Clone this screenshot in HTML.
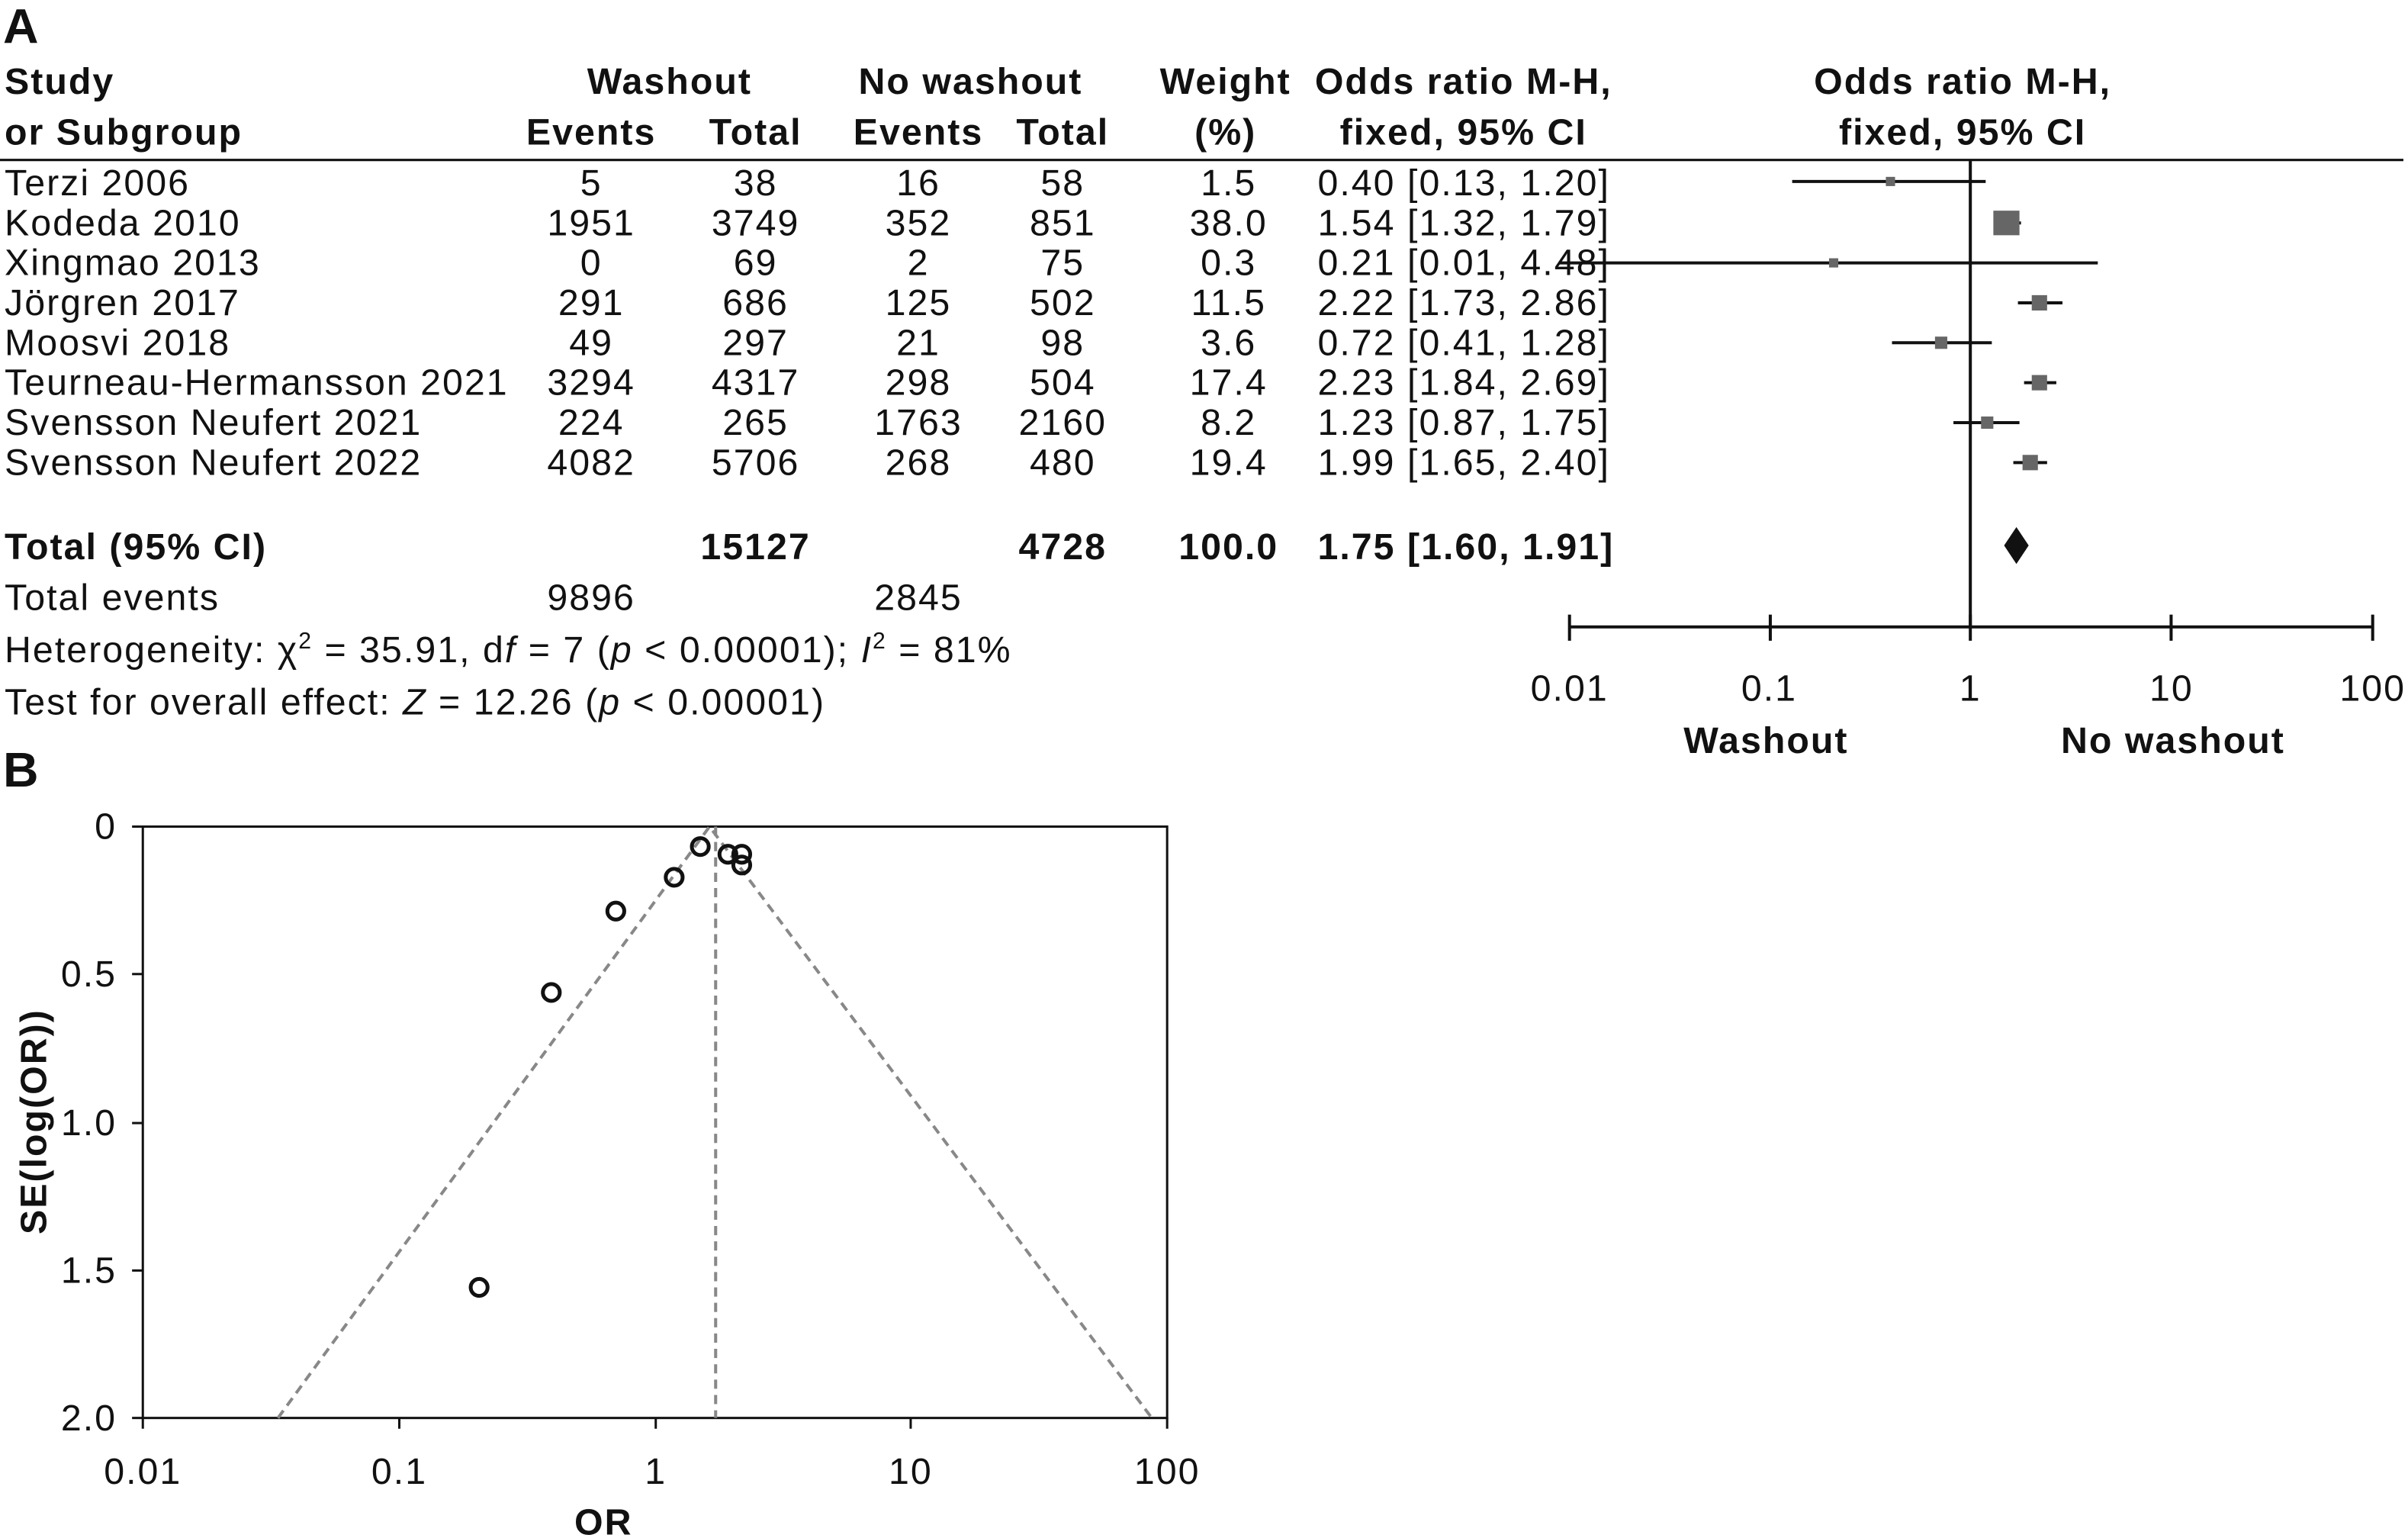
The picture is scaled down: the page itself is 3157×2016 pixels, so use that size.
<!DOCTYPE html>
<html><head><meta charset="utf-8"><style>
html,body{margin:0;padding:0;background:#fff;}
svg{display:block;}
text{font-family:"Liberation Sans",sans-serif;font-size:24px;fill:#111;letter-spacing:1px;}
.b{font-weight:bold;}
.m{text-anchor:middle;}
.e{text-anchor:end;}
</style></head><body>
<svg width="3157" height="2016" viewBox="0 0 1568 1001" xmlns="http://www.w3.org/2000/svg">
<rect width="1568" height="1001" fill="#fff"/>
<text x="2" y="28" class="b" style="font-size:32px">A</text>
<text x="2" y="512" class="b" style="font-size:32px">B</text>
<g class="b">
<text x="3" y="61" class="b">Study</text>
<text x="3" y="94" class="b">or Subgroup</text>
<text x="436" y="61" class="b m">Washout</text>
<text x="385" y="94" class="b m">Events</text>
<text x="492" y="94" class="b m">Total</text>
<text x="632" y="61" class="b m">No washout</text>
<text x="598" y="94" class="b m">Events</text>
<text x="692" y="94" class="b m">Total</text>
<text x="798" y="61" class="b m">Weight</text>
<text x="798" y="94" class="b m">(%)</text>
<text x="953" y="61" class="b m">Odds ratio M-H,</text>
<text x="953" y="94" class="b m">fixed, 95% CI</text>
<text x="1278" y="61" class="b m">Odds ratio M-H,</text>
<text x="1278" y="94" class="b m">fixed, 95% CI</text>
</g>
<line x1="0" y1="104" x2="1565" y2="104" stroke="#111" stroke-width="1.5"/>
<g>
<text x="3" y="127">Terzi 2006</text><text x="385" y="127" class="m">5</text><text x="492" y="127" class="m">38</text><text x="598" y="127" class="m">16</text><text x="692" y="127" class="m">58</text><text x="800" y="127" class="m">1.5</text><text x="858" y="127">0.40 [0.13, 1.20]</text>
<text x="3" y="153">Kodeda 2010</text><text x="385" y="153" class="m">1951</text><text x="492" y="153" class="m">3749</text><text x="598" y="153" class="m">352</text><text x="692" y="153" class="m">851</text><text x="800" y="153" class="m">38.0</text><text x="858" y="153">1.54 [1.32, 1.79]</text>
<text x="3" y="179">Xingmao 2013</text><text x="385" y="179" class="m">0</text><text x="492" y="179" class="m">69</text><text x="598" y="179" class="m">2</text><text x="692" y="179" class="m">75</text><text x="800" y="179" class="m">0.3</text><text x="858" y="179">0.21 [0.01, 4.48]</text>
<text x="3" y="205">Jörgren 2017</text><text x="385" y="205" class="m">291</text><text x="492" y="205" class="m">686</text><text x="598" y="205" class="m">125</text><text x="692" y="205" class="m">502</text><text x="800" y="205" class="m">11.5</text><text x="858" y="205">2.22 [1.73, 2.86]</text>
<text x="3" y="231">Moosvi 2018</text><text x="385" y="231" class="m">49</text><text x="492" y="231" class="m">297</text><text x="598" y="231" class="m">21</text><text x="692" y="231" class="m">98</text><text x="800" y="231" class="m">3.6</text><text x="858" y="231">0.72 [0.41, 1.28]</text>
<text x="3" y="257">Teurneau-Hermansson 2021</text><text x="385" y="257" class="m">3294</text><text x="492" y="257" class="m">4317</text><text x="598" y="257" class="m">298</text><text x="692" y="257" class="m">504</text><text x="800" y="257" class="m">17.4</text><text x="858" y="257">2.23 [1.84, 2.69]</text>
<text x="3" y="283">Svensson Neufert 2021</text><text x="385" y="283" class="m">224</text><text x="492" y="283" class="m">265</text><text x="598" y="283" class="m">1763</text><text x="692" y="283" class="m">2160</text><text x="800" y="283" class="m">8.2</text><text x="858" y="283">1.23 [0.87, 1.75]</text>
<text x="3" y="309">Svensson Neufert 2022</text><text x="385" y="309" class="m">4082</text><text x="492" y="309" class="m">5706</text><text x="598" y="309" class="m">268</text><text x="692" y="309" class="m">480</text><text x="800" y="309" class="m">19.4</text><text x="858" y="309">1.99 [1.65, 2.40]</text>
</g>
<text x="3" y="364" class="b">Total (95% CI)</text><text x="492" y="364" class="b m">15127</text><text x="692" y="364" class="b m">4728</text><text x="800" y="364" class="b m">100.0</text><text x="858" y="364" class="b">1.75 [1.60, 1.91]</text>
<text x="3" y="397">Total events</text><text x="385" y="397" class="m">9896</text><text x="598" y="397" class="m">2845</text>
<text x="3" y="431">Heterogeneity: χ<tspan dy="-9" style="font-size:15px">2</tspan><tspan dy="9"> = 35.91, d</tspan><tspan font-style="italic">f</tspan> = 7 (<tspan font-style="italic">p</tspan> &lt; 0.00001); <tspan font-style="italic">I</tspan><tspan dy="-9" style="font-size:15px">2</tspan><tspan dy="9"> = 81%</tspan></text>
<text x="3" y="465">Test for overall effect: <tspan font-style="italic">Z</tspan> = 12.26 (<tspan font-style="italic">p</tspan> &lt; 0.00001)</text>
<g stroke="#111" stroke-width="2">
<line x1="1283" y1="104" x2="1283" y2="408"/>
<line x1="1022" y1="408" x2="1545" y2="408"/>
<line x1="1022" y1="400" x2="1022" y2="417"/><line x1="1152.75" y1="400" x2="1152.75" y2="417"/><line x1="1283" y1="400" x2="1283" y2="417"/><line x1="1413.75" y1="400" x2="1413.75" y2="417"/><line x1="1545" y1="400" x2="1545" y2="417"/>
<line x1="1167" y1="118" x2="1293" y2="118"/>
<line x1="1299" y1="145" x2="1316" y2="145"/>
<line x1="1015" y1="171" x2="1366" y2="171"/>
<line x1="1314" y1="197" x2="1343" y2="197"/>
<line x1="1232" y1="223" x2="1297" y2="223"/>
<line x1="1318" y1="249" x2="1339" y2="249"/>
<line x1="1272" y1="275" x2="1315" y2="275"/>
<line x1="1311" y1="301" x2="1333" y2="301"/>
</g>
<g fill="#666">
<rect x="1228" y="115" width="6" height="6"/>
<rect x="1298" y="137" width="17" height="16"/>
<rect x="1191" y="168" width="6" height="6"/>
<rect x="1323" y="192" width="10" height="10"/>
<rect x="1260" y="219" width="8" height="8"/>
<rect x="1323" y="244" width="10" height="10"/>
<rect x="1290" y="271" width="8" height="8"/>
<rect x="1317" y="296" width="10" height="10"/>
</g>
<polygon points="1305,355 1313,343 1321,355 1313,367" fill="#111"/>
<text x="1022" y="456" class="m">0.01</text><text x="1152" y="456" class="m">0.1</text><text x="1283" y="456" class="m">1</text><text x="1414" y="456" class="m">10</text><text x="1545" y="456" class="m">100</text>
<text x="1150" y="490" class="b m">Washout</text><text x="1415" y="490" class="b m">No washout</text>
<rect x="93" y="538" width="667" height="385" fill="none" stroke="#111" stroke-width="1.5"/>
<g stroke="#111" stroke-width="1.5">
<line x1="86" y1="538" x2="93" y2="538"/><line x1="86" y1="634" x2="93" y2="634"/><line x1="86" y1="731" x2="93" y2="731"/><line x1="86" y1="827" x2="93" y2="827"/><line x1="86" y1="923" x2="93" y2="923"/>
<line x1="93" y1="923" x2="93" y2="930"/><line x1="260" y1="923" x2="260" y2="930"/><line x1="427" y1="923" x2="427" y2="930"/><line x1="593" y1="923" x2="593" y2="930"/><line x1="760" y1="923" x2="760" y2="930"/>
</g>
<g stroke="#888" stroke-width="2" stroke-dasharray="6,4" fill="none">
<line x1="466" y1="538" x2="466" y2="923"/>
<polyline points="181,923 462,538 750,923"/>
</g>
<g fill="none" stroke="#111" stroke-width="2.5">
<circle cx="359" cy="646" r="5.5"/><circle cx="456" cy="551" r="5.5"/><circle cx="312" cy="838" r="5.5"/><circle cx="483" cy="563" r="5.5"/><circle cx="401" cy="593" r="5.5"/><circle cx="483" cy="556" r="5.5"/><circle cx="439" cy="571" r="5.5"/><circle cx="474" cy="556" r="5.5"/>
</g>
<text x="76" y="546" class="e">0</text><text x="76" y="642" class="e">0.5</text><text x="76" y="739" class="e">1.0</text><text x="76" y="835" class="e">1.5</text><text x="76" y="931" class="e">2.0</text>
<text x="93" y="966" class="m">0.01</text><text x="260" y="966" class="m">0.1</text><text x="427" y="966" class="m">1</text><text x="593" y="966" class="m">10</text><text x="760" y="966" class="m">100</text>
<text x="393" y="999" class="b m">OR</text>
<text transform="translate(30,730) rotate(-90)" class="b m">SE(log(OR))</text>
</svg>
</body></html>
